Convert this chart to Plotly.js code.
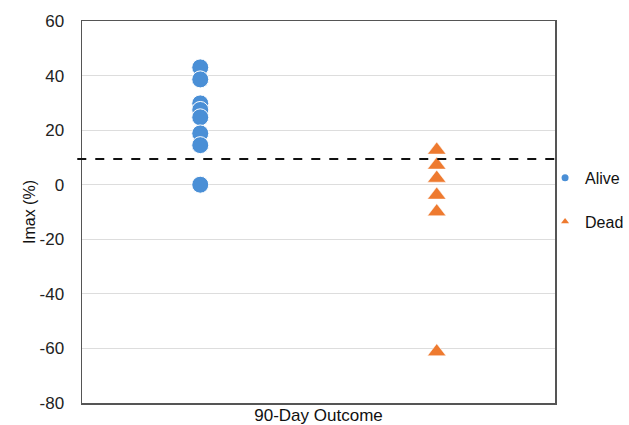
<!DOCTYPE html>
<html>
<head>
<meta charset="utf-8">
<script src="https://cdn.plot.ly/plotly-3.0.1.min.js"></script>
<style>html,body{margin:0;padding:0;background:#fff;}#chart{width:629px;height:425px;}</style>
</head>
<body>
<div id="chart"></div>
<script>
const groups = ["Alive", "Dead"];
const alivePos = [1, 1, 1, 1, 1, 1, 1, 1];
const aliveImax = [43, 38.6, 29.8, 27.4, 24.7, 18.8, 14.5, 0];
const deadPos = [2, 2, 2, 2, 2, 2];
const deadImax = [12.7, 7.2, 2.4, -3.8, -9.9, -61.2];
const cutoff = [9.4];
const yTicks = [60, 40, 20, 0, -20, -40, -60, -80];

const blue = '#4A8FD6';
const orange = '#EE7A2F';

const traces = [
  {x: alivePos, y: aliveImax, type: 'scatter', mode: 'markers', name: groups[0], showlegend: false,
   marker: {symbol: 'circle', size: 17, color: blue, line: {color: '#ffffff', width: 1}}},
  {x: deadPos, y: deadImax, type: 'scatter', mode: 'markers', name: groups[1], showlegend: false,
   marker: {symbol: 'triangle-up', size: 16, color: orange, line: {color: '#ffffff', width: 0.5}}},
  {x: [null], y: [null], type: 'scatter', mode: 'markers', name: groups[0], legendgroup: 'a',
   marker: {symbol: 'circle', size: 7, color: blue}},
  {x: [null], y: [null], type: 'scatter', mode: 'markers', name: groups[1], legendgroup: 'b',
   marker: {symbol: 'triangle-up', size: 7, color: orange}}
];

const layout = {
  width: 629, height: 425,
  margin: {l: 82, r: 74, t: 21, b: 22, autoexpand: false},
  paper_bgcolor: '#ffffff', plot_bgcolor: '#ffffff',
  font: {family: 'Liberation Sans, Arial, sans-serif', color: '#222222', size: 17},
  showlegend: true,
  legend: {x: 0.979, y: 0.634, xanchor: 'left', yanchor: 'top',
           font: {size: 16, color: '#111'}, tracegroupgap: 20, itemwidth: 30, bgcolor: 'rgba(0,0,0,0)'},
  xaxis: {range: [0.5, 2.5], showticklabels: false, ticks: '', showgrid: false, zeroline: false,
          showline: true, mirror: true, linecolor: '#555555', linewidth: 1.5,
          title: {text: '90-Day Outcome', font: {size: 17, color: '#111'}, standoff: 7}, automargin: false},
  yaxis: {range: [-80, 60], tickvals: yTicks, ticktext: yTicks.map(String), showgrid: true,
          gridcolor: '#dddddd', gridwidth: 1, zeroline: false,
          showline: true, mirror: true, linecolor: '#555555', linewidth: 1.5, ticks: '',
          tickfont: {size: 17, color: '#222'}, ticklabelstandoff: 13,
          title: {text: 'Imax (%)', font: {size: 16, color: '#111'}, standoff: 0}, automargin: false},
  shapes: cutoff.map(v => ({type: 'line', xref: 'paper', yref: 'y', x0: -0.01, x1: 1, y0: v, y1: v,
                            line: {color: '#111111', width: 2, dash: 'dash'}}))
};

Plotly.newPlot('chart', traces, layout, {displayModeBar: false, staticPlot: true});
</script>
</body>
</html>
